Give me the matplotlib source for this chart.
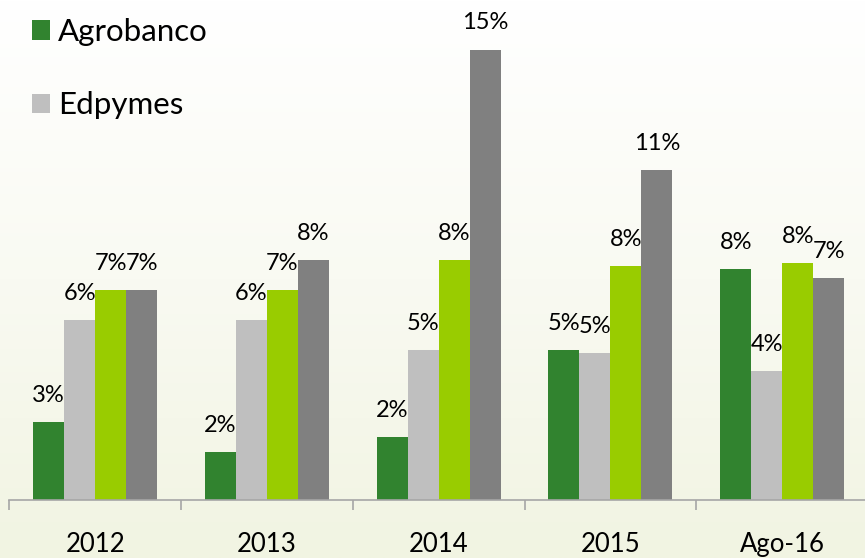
import numpy as np
import matplotlib.pyplot as plt
from matplotlib.colors import LinearSegmentedColormap

# datos (% de participacion)
categorias = ['2012', '2013', '2014', '2015', 'Ago-16']
agrobanco = [2.6, 1.6, 2.1, 5.0, 7.7]
edpymes = [6.0, 6.0, 5.0, 4.9, 4.3]
serie3 = [7.0, 7.0, 8.0, 7.8, 7.9]
serie4 = [7.0, 8.0, 15.0, 11.0, 7.4]

series = [agrobanco, edpymes, serie3, serie4]
nombres = ['Agrobanco', 'Edpymes', None, None]
colores = ['#31832F', '#BFBFBF', '#99CC00', '#808080']

plt.rcParams['font.family'] = ['Lato', 'DejaVu Sans']

fig = plt.figure(figsize=(8.65, 5.58), dpi=100)

# fondo claro con degradado suave
bg = fig.add_axes([0, 0, 1, 1], zorder=-1)
grad = np.linspace(0, 1, 256).reshape(-1, 1)
grad = np.hstack([grad, grad])
cmap = LinearSegmentedColormap.from_list('fondo', ['#FFFFFF', '#F9FAF2', '#F1F4E2'])
bg.imshow(grad, aspect='auto', cmap=cmap, extent=[0, 1, 0, 1], origin='upper')
bg.axis('off')

ax = fig.add_axes([9.3/865, 58/558, 858.7/865, 500/558])
ax.set_facecolor('none')

x = np.arange(len(categorias))
w = 0.1805
barras = []
for i, (vals, col) in enumerate(zip(series, colores)):
    b = ax.bar(x + (i - 1.5)*w, vals, w, color=col, zorder=2)
    barras.append(b)
    for xi, v in zip(x + (i - 1.5)*w, vals):
        ax.annotate('%d%%' % round(v), (xi, v), xytext=(0, 14.5),
                    textcoords='offset points', ha='center', va='baseline',
                    fontsize=17, color='black')

ax.set_xlim(-0.5, len(categorias) - 0.5)
ax.set_ylim(0, 16.65)
ax.set_yticks([])
for s in ['left', 'right', 'top']:
    ax.spines[s].set_visible(False)
ax.spines['bottom'].set_color('#A6A6A6')
ax.spines['bottom'].set_linewidth(1.2)

ax.set_xticks(x)
ax.set_xticklabels(categorias, fontsize=18.5)
ax.tick_params(axis='x', which='major', length=0, pad=23)
ax.set_xticks(np.arange(-0.5, len(categorias)), minor=True)
ax.tick_params(axis='x', which='minor', length=7, width=1.2, color='#A6A6A6')

fig.legend([barras[0], barras[1]], nombres[:2], loc='upper left',
           bbox_to_anchor=(32/865, 1 - 18/558), frameon=False,
           borderpad=0, borderaxespad=0, handlelength=0.58, handleheight=0.58,
           handletextpad=0.26, labelspacing=1.45, fontsize=22.5)

fig.savefig('out.png', dpi=100)
